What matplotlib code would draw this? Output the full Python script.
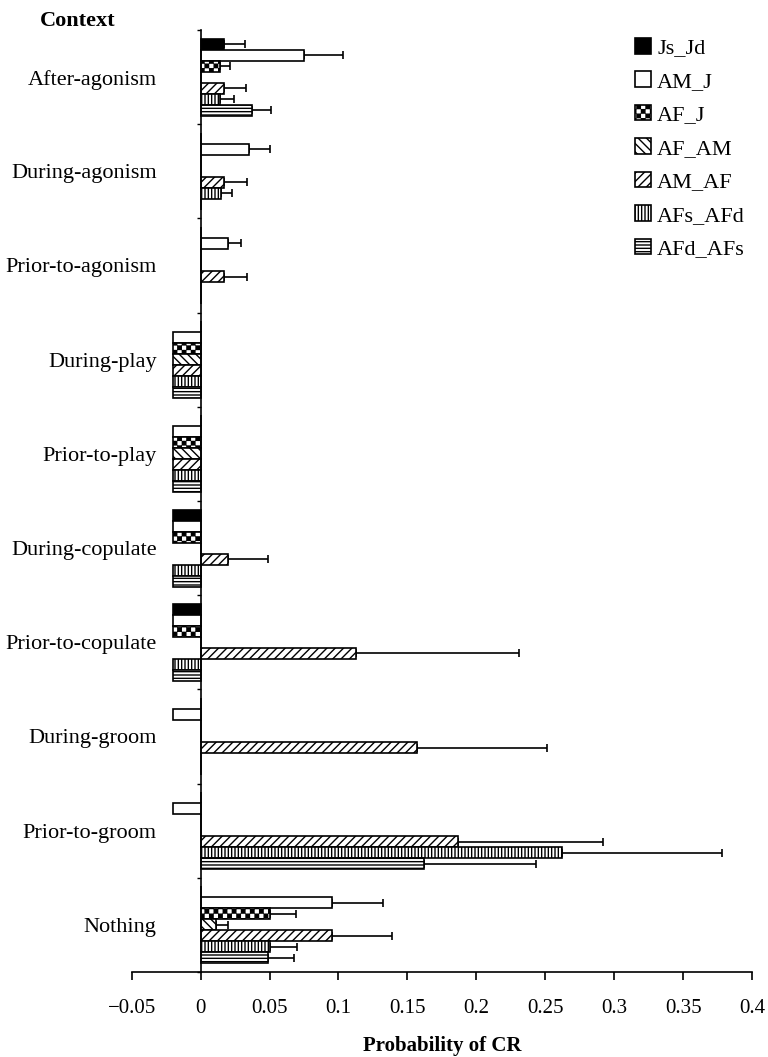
import warnings
import numpy as np
import matplotlib
matplotlib.use("Agg")
import matplotlib.pyplot as plt
import matplotlib.hatch as mhatch
from matplotlib.path import Path
from matplotlib.ticker import FixedLocator, FuncFormatter, MultipleLocator

warnings.filterwarnings("ignore")

plt.rcParams['font.family'] = ['Liberation Serif', 'DejaVu Serif']
plt.rcParams['font.size'] = 15
plt.rcParams['hatch.linewidth'] = 1.0

# contexts, top to bottom
contexts = ["After-agonism", "During-agonism", "Prior-to-agonism", "During-play",
            "Prior-to-play", "During-copulate", "Prior-to-copulate", "During-groom",
            "Prior-to-groom", "Nothing"]
series = ["Js_Jd", "AM_J", "AF_J", "AF_AM", "AM_AF", "AFs_AFd", "AFd_AFs"]

# probability of CR per context
js_jd   = [0.017, 0, 0, 0, 0, -0.02, -0.02, 0, 0, 0]
am_j    = [0.075, 0.035, 0.020, -0.02, -0.02, -0.02, -0.02, -0.02, -0.02, 0.095]
af_j    = [0.014, 0, 0, -0.02, -0.02, -0.02, -0.02, 0, 0, 0.050]
af_am   = [0, 0, 0, -0.02, -0.02, 0, 0, 0, 0, 0.011]
am_af   = [0.017, 0.017, 0.017, -0.02, -0.02, 0.020, 0.113, 0.157, 0.187, 0.095]
afs_afd = [0.014, 0.015, 0, -0.02, -0.02, -0.02, -0.02, 0, 0.262, 0.050]
afd_afs = [0.037, 0, 0, -0.02, -0.02, -0.02, -0.02, 0, 0.162, 0.049]

# upper error (SE)
js_jd_err   = [0.015, 0, 0, 0, 0, 0, 0, 0, 0, 0]
am_j_err    = [0.028, 0.015, 0.009, 0, 0, 0, 0, 0, 0, 0.037]
af_j_err    = [0.007, 0, 0, 0, 0, 0, 0, 0, 0, 0.019]
af_am_err   = [0, 0, 0, 0, 0, 0, 0, 0, 0, 0.0085]
am_af_err   = [0.016, 0.017, 0.017, 0, 0, 0.029, 0.118, 0.094, 0.105, 0.044]
afs_afd_err = [0.0105, 0.008, 0, 0, 0, 0, 0, 0, 0.116, 0.020]
afd_afs_err = [0.014, 0, 0, 0, 0, 0, 0, 0, 0.081, 0.019]

values = [js_jd, am_j, af_j, af_am, am_af, afs_afd, afd_afs]
errors = [js_jd_err, am_j_err, af_j_err, af_am_err, am_af_err, afs_afd_err, afd_afs_err]

faces = ['black', 'white', 'white', 'white', 'white', 'white', 'white']
hatches = [None, None, 'cccc', '\\\\\\\\', '////', '|||||', '-----']


class CheckerHatch(mhatch.HatchPatternBase):
    # checkerboard of filled squares, picked with 'c'
    def __init__(self, hatch, density):
        n = int(hatch.count('c') * density * 0.92)
        self.n = n + n % 2
        self.num_vertices = 5 * (self.n * self.n // 2)

    def set_vertices_and_codes(self, vertices, codes):
        s = 1.0 / self.n
        d = s * 0.12
        k = 0
        for i in range(self.n):
            for j in range(self.n):
                if (i + j) % 2:
                    continue
                x0, y0 = i * s + d, j * s + d
                x1, y1 = (i + 1) * s - d, (j + 1) * s - d
                vertices[k:k + 5] = [(x0, y0), (x1, y0), (x1, y1), (x0, y1), (x0, y0)]
                codes[k:k + 5] = [Path.MOVETO, Path.LINETO, Path.LINETO,
                                  Path.LINETO, Path.CLOSEPOLY]
                k += 5


mhatch._hatch_types.append(CheckerHatch)

W, H = 768, 1057
fig = plt.figure(figsize=(W / 100, H / 100), dpi=100)
ax = fig.add_axes([131.7 / W, (H - 972) / H, (752 - 131.7) / W, (972 - 30) / H])

y = np.arange(len(contexts))
h = 0.117
for k, name in enumerate(series):
    vals = np.array(values[k], dtype=float)
    errs = np.array(errors[k], dtype=float)
    pos = y + (k - 3) * h
    ax.barh(pos, vals, height=h, color=faces[k], edgecolor='black',
            hatch=hatches[k], linewidth=1.2, label=name, zorder=2)
    m = errs > 0
    ax.errorbar(vals[m], pos[m], xerr=[np.zeros(m.sum()), errs[m]], fmt='none',
                ecolor='black', elinewidth=1.2, capsize=3.2, capthick=1.2, zorder=1)

ax.set_xlim(-0.05, 0.4)
ax.set_ylim(len(contexts) - 0.5, -0.5)

for s in ['top', 'right']:
    ax.spines[s].set_visible(False)
ax.spines['left'].set_position(('data', 0))
ax.spines['left'].set_linewidth(1.2)
ax.spines['bottom'].set_linewidth(1.2)

ax.xaxis.set_major_locator(MultipleLocator(0.05))
ax.xaxis.set_major_formatter(FuncFormatter(lambda v, p: ('%g' % round(v, 3)).replace('-', '\u2212')))
ax.tick_params(axis='x', direction='out', length=6, width=1.2, pad=13.5, labelsize=15)

ax.set_yticks(y)
ax.set_yticklabels(contexts)
ax.yaxis.set_minor_locator(FixedLocator(np.arange(-0.5, len(contexts), 1.0)))
ax.tick_params(axis='y', which='major', length=0, pad=31.7, labelsize=16)
ax.tick_params(axis='y', which='minor', direction='out', length=3, width=1.0)

ax.set_xlabel("Probability of CR", fontweight='bold', fontsize=15, labelpad=13)
fig.text(78 / W, 1 - 21.5 / H, "Context", ha='center', va='center',
         fontweight='bold', fontsize=16)

ax.legend(loc='upper left', bbox_to_anchor=(635 / W, 1 - 38 / H),
          bbox_transform=fig.transFigure, frameon=False, borderpad=0,
          borderaxespad=0, handlelength=0.7, handleheight=0.7,
          handletextpad=0.3, labelspacing=0.58, fontsize=16)

fig.savefig("out.png", dpi=100)
